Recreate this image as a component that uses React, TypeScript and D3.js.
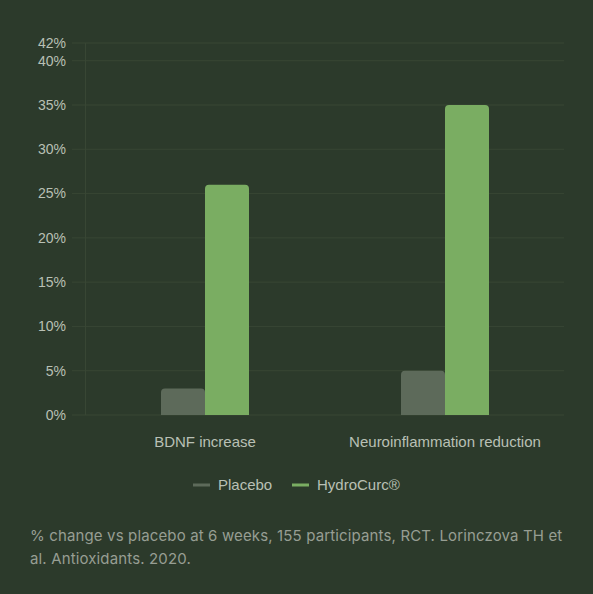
import React from "react";
import * as d3 from "d3";

const categories = ["BDNF increase", "Neuroinflammation reduction"];
const seriesNames = ["Placebo", "HydroCurc®"];
const placeboValues = [3, 5];
const hydroValues = [26, 35];
const yTicks = [0, 5, 10, 15, 20, 25, 30, 35, 40, 42];
const footerLines = [
  "% change vs placebo at 6 weeks, 155 participants, RCT. Lorinczova TH et",
  "al. Antioxidants. 2020.",
];

const W = 593;
const H = 594;
const BG = "#2c3a2b";
const GRID = "#384634";
const TEXT = "#b9c0b5";
const PLACEBO = "#5d6a5a";
const HYDRO = "#7aad62";

function topRoundedRect(x: number, y: number, w: number, h: number, r: number) {
  const rr = Math.min(r, h, w / 2);
  return `M${x},${y + h}V${y + rr}Q${x},${y} ${x + rr},${y}H${x + w - rr}Q${x + w},${y} ${x + w},${y + rr}V${y + h}Z`;
}

export default function App() {
  const y = d3.scaleLinear().domain([0, 42]).range([415, 43]);
  const x0 = d3.scaleBand<string>().domain(categories).range([85, 565]).paddingInner(0).paddingOuter(0);
  const x1 = d3.scaleBand<string>().domain(seriesNames).range([-44, 44]);
  const series = [
    { name: seriesNames[0], values: placeboValues, color: PLACEBO },
    { name: seriesNames[1], values: hydroValues, color: HYDRO },
  ];
  return (
    <div style={{ position: "fixed", left: 0, top: 0, width: W, height: H, background: BG }}>
      <svg width={W} height={H} style={{ display: "block" }}>
        <rect x={0} y={0} width={W} height={H} fill={BG} />
        {yTicks.map((t) => (
          <g key={t}>
            <line x1={72} x2={564} y1={y(t)} y2={y(t)} stroke={GRID} strokeWidth={1} />
            <text
              x={66}
              y={y(t)}
              dy="0.35em"
              textAnchor="end"
              fill={TEXT}
              fontFamily="Liberation Sans, Arial, sans-serif"
              fontSize={14}
            >
              {t}%
            </text>
          </g>
        ))}
        <line x1={85.5} x2={85.5} y1={43} y2={415} stroke={GRID} strokeWidth={1} />
        {categories.map((c, i) => {
          const cx = (x0(c) as number) + x0.bandwidth() / 2;
          return (
            <g key={c}>
              {series.map((s) => {
                const bx = cx + (x1(s.name) as number);
                const by = y(s.values[i]);
                return (
                  <path
                    key={s.name}
                    d={topRoundedRect(bx, by, x1.bandwidth(), y(0) - by, 4)}
                    fill={s.color}
                  />
                );
              })}
              <text
                x={cx}
                y={447}
                textAnchor="middle"
                fill={TEXT}
                fontFamily="Liberation Sans, Arial, sans-serif"
                fontSize={15}
              >
                {c}
              </text>
            </g>
          );
        })}
        {series.map((s, i) => {
          const lx = i === 0 ? 193 : 292;
          return (
            <g key={s.name}>
              <line x1={lx} x2={lx + 17} y1={485} y2={485} stroke={s.color} strokeWidth={3} />
              <text
                x={lx + 25}
                y={485}
                dy="0.35em"
                fill={TEXT}
                fontFamily="Liberation Sans, Arial, sans-serif"
                fontSize={15}
              >
                {s.name}
              </text>
            </g>
          );
        })}
        {footerLines.map((l, i) => (
          <text
            key={i}
            x={30}
            y={541 + i * 23}
            fill="#979e93"
            fontFamily="Inter, sans-serif"
            fontSize={15}
            letterSpacing={0.14}
          >
            {l}
          </text>
        ))}
      </svg>
    </div>
  );
}
